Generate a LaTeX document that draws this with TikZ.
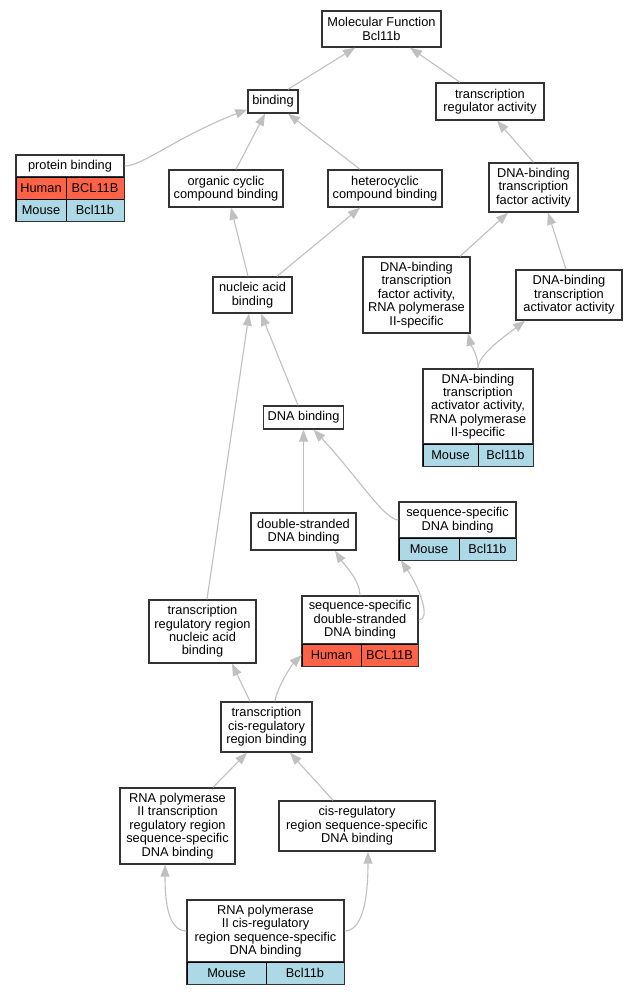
\documentclass[tikz,border=0pt]{standalone}
\usepackage{fontspec}
\setmainfont{Liberation Sans}
\usetikzlibrary{arrows.meta}
\definecolor{edgegray}{RGB}{192,192,192}
\definecolor{boxline}{RGB}{51,51,51}
\definecolor{humanred}{RGB}{255,99,71}
\definecolor{mouseblue}{RGB}{173,216,230}

\begin{document}
\begin{tikzpicture}[
        x=1pt, y=-1pt,
        font=\fontsize{12.8}{13.4}\selectfont,
        wh/.style 2 args={minimum width=#1, minimum height=#2},
        term/.style={draw=boxline, line width=1.4pt, fill=white, align=center, inner sep=0pt},
        cell/.style={draw=black, line width=0.8pt, inner sep=0pt, minimum height=22},
        human/.style={cell, fill=humanred},
        mouse/.style={cell, fill=mouseblue},
        frame/.style={draw=boxline, line width=1.4pt},
        isa/.style={draw=edgegray, line width=1.1pt, -{Triangle[length=12pt, width=9pt, fill=edgegray]}}
      ]
        \fill[white] (0,0) rectangle (639,995);
        \useasboundingbox (0,0) rectangle (639,995);

        % Upper terms
        \node[term, wh={119}{36}] (mf_root) at (381.5,29) {Molecular Function\\Bcl11b};
        \node[term, wh={50}{23}] (binding) at (273,101.5) {binding};
        \node[term, wh={108}{37}] (tra) at (490,101.5) {transcription\\regulator activity};
        \node[term, wh={114}{37}] (occb) at (226,188.5) {organic cyclic\\compound binding};
        \node[term, wh={114}{37}] (hcb) at (385,188.5) {heterocyclic\\compound binding};
        \node[term, wh={89}{49}] (dbtf) at (533.5,187.5) {DNA-binding\\transcription\\factor activity};
        \node[term, wh={79}{36}] (nab) at (252.5,295) {nucleic acid\\binding};
        \node[term, wh={107}{76}] (dbtf2) at (416.5,295) {DNA-binding\\transcription\\factor activity,\\RNA polymerase\\II-specific};
        \node[term, wh={106}{50}] (dbtaa) at (569,295) {DNA-binding\\transcription\\activator activity};
        \node[term, wh={80}{23}] (dnab) at (303.5,417.5) {DNA binding};
        \node[term, wh={105}{37}] (dsdb) at (303.5,531.5) {double-stranded\\DNA binding};
        \node[term, wh={107}{63}] (trr) at (202.5,631.5) {transcription\\regulatory region\\nucleic acid\\binding};
        \node[term, wh={91}{50}] (tcrb) at (266.5,727) {transcription\\cis-regulatory\\region binding};
        \node[term, wh={115}{76}] (rtrr) at (177.5,826) {RNA polymerase\\II transcription\\regulatory region\\sequence-specific\\DNA binding};
        \node[term, wh={156}{50}] (cisr) at (357,826) {cis-regulatory\\region sequence-specific\\DNA binding};

        % Annotated terms with gene rows
        \node[term, wh={108}{22}] (pb) at (70,166) {protein binding};
        \node[human, minimum width=50] (pb_hs) at (41,188) {Human};
        \node[human, minimum width=58] (pb_hg) at (95,188) {BCL11B};
        \node[mouse, minimum width=50] (pb_ms) at (41,210) {Mouse};
        \node[mouse, minimum width=58] (pb_mg) at (95,210) {Bcl11b};
        \draw[frame] (pb.north west) rectangle (pb_mg.south east);

        \node[term, wh={110}{75}] (dbtaa2) at (478,406.5) {DNA-binding\\transcription\\activator activity,\\RNA polymerase\\II-specific};
        \node[mouse, minimum width=55] (dbtaa2_ms) at (450.5,455) {Mouse};
        \node[mouse, minimum width=55] (dbtaa2_mg) at (505.5,455) {Bcl11b};
        \draw[frame] (dbtaa2.north west) rectangle (dbtaa2_mg.south east);

        \node[term, wh={117}{36}] (ssdb) at (457.5,520) {sequence-specific\\DNA binding};
        \node[mouse, minimum width=60] (ssdb_ms) at (429,549) {Mouse};
        \node[mouse, minimum width=57] (ssdb_mg) at (487.5,549) {Bcl11b};
        \draw[frame] (ssdb.north west) rectangle (ssdb_mg.south east);

        \node[term, wh={116}{48}] (ssds) at (360,620) {sequence-specific\\double-stranded\\DNA binding};
        \node[human, minimum width=59] (ssds_hs) at (331.5,655) {Human};
        \node[human, minimum width=57] (ssds_hg) at (389.5,655) {BCL11B};
        \draw[frame] (ssds.north west) rectangle (ssds_hg.south east);

        \node[term, wh={157}{62}] (rcis) at (265.5,931) {RNA polymerase\\II cis-regulatory\\region sequence-specific\\DNA binding};
        \node[mouse, minimum width=79] (rcis_ms) at (226.5,973) {Mouse};
        \node[mouse, minimum width=78] (rcis_mg) at (305,973) {Bcl11b};
        \draw[frame] (rcis.north west) rectangle (rcis_mg.south east);

        % is_a links, child to parent
        \draw[isa] ([xshift=15]binding.north) -- ([xshift=-26.5]mf_root.south);
        \draw[isa] ([xshift=-30]tra.north) -- ([xshift=28.5]mf_root.south);
        \draw[isa] (pb.east) .. controls +(18,0) and +(-70,27) .. ([yshift=-8]binding.west);
        \draw[isa] ([xshift=10]occb.north) -- ([xshift=-8]binding.south);
        \draw[isa] ([xshift=-25]hcb.north) -- ([xshift=15]binding.south);
        \draw[isa] (dbtf.north) -- ([xshift=7]tra.south);
        \draw[isa] ([xshift=-4.5]nab.north) -- ([xshift=5]occb.south);
        \draw[isa] ([xshift=24.5]nab.north) -- ([xshift=-25]hcb.south);
        \draw[isa] ([xshift=43.5]dbtf2.north) -- ([xshift=-25.5]dbtf.south);
        \draw[isa] ([xshift=-3]dbtaa.north) -- ([xshift=14.5]dbtf.south);
        \draw[isa] (dbtaa2.north) .. controls +(0,-14) and +(3,12) .. ([xshift=51.5]dbtf2.south);
        \draw[isa] (dbtaa2.north) .. controls +(0,-14) and +(-18,14) .. ([xshift=-44]dbtaa.south);
        \draw[isa] ([xshift=-5.5]dnab.north) -- ([xshift=8.5]nab.south);
        \draw[isa] ([xshift=4.5]trr.north) -- ([xshift=-3.5]nab.south);
        \draw[isa] (dsdb.north) -- (dnab.south);
        \draw[isa] (ssdb.west) .. controls +(-14,0) and +(40,42) .. ([xshift=10]dnab.south);
        \draw[isa] (ssds.north) .. controls +(0,-15) and +(10,15) .. ([xshift=31.5]dsdb.south);
        \draw[isa] (ssds.east) .. controls +(12,0) and +(20,30) .. ([xshift=-28]ssdb_ms.south);
        \draw[isa] ([xshift=-16.5]tcrb.north) -- ([xshift=29.5]trr.south);
        \draw[isa] ([xshift=8.5]tcrb.north) .. controls +(2,-14) and +(-10,10) .. (ssds_hs.west);
        \draw[isa] ([xshift=35.5]rtrr.north) -- ([xshift=-19.5]tcrb.south);
        \draw[isa] ([xshift=-24]cisr.north) -- ([xshift=23.5]tcrb.south);
        \draw[isa] (rcis.west) .. controls +(-20,0) and +(0,30) .. ([xshift=-12.5]rtrr.south);
        \draw[isa] (rcis.east) .. controls +(22,0) and +(0,30) .. ([xshift=11]cisr.south);

    \end{tikzpicture}
\end{document}
